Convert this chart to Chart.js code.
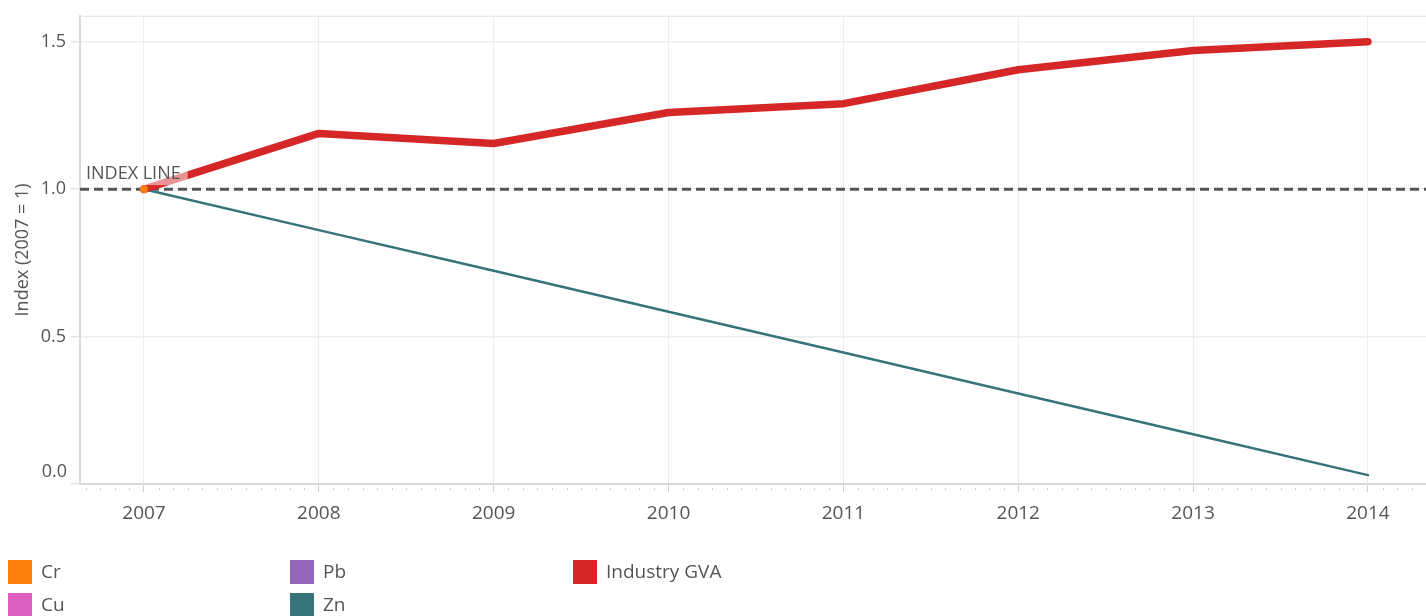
<!DOCTYPE html>
<html><head><meta charset="utf-8">
<script src="https://cdn.jsdelivr.net/npm/chart.js@4.4.1/dist/chart.umd.min.js"></script>
<style>html,body{margin:0;padding:0;background:#fff;overflow:hidden}#wrap{position:relative;width:1426px;height:616px}</style>
</head><body><div id="wrap"><canvas id="c" width="1426" height="616"></canvas></div>
<script>
// ---- data ----
const years = [2007, 2008, 2009, 2010, 2011, 2012, 2013, 2014];
const industryGVA = [1.0, 1.189, 1.155, 1.26, 1.29, 1.405, 1.47, 1.5];
const zn = [1.0, 0.861, 0.723, 0.584, 0.446, 0.307, 0.169, 0.03];
const cr = [1.0];
const cu = [1.0];
const pb = [1.0];
const yTicks = [0, 0.5, 1.0, 1.5];
const indexValue = 1;
const indexLabel = 'INDEX LINE';
const yTitle = 'Index (2007 = 1)';
const legendOrder = ['Cr', 'Cu', 'Pb', 'Zn', 'Industry GVA'];

const FONT = "'Open Sans', 'Noto Sans', sans-serif";
const TXT = '#555';

function pts(vals) { return vals.map((v, i) => ({ x: years[i], y: v })); }

const datasets = [
  { label: 'Cr', data: pts(cr), borderColor: '#ff7f0e', backgroundColor: '#ff7f0e', pointRadius: 4, borderWidth: 0, pointBorderWidth: 0, order: 0 },
  { label: 'Cu', data: pts(cu), borderColor: '#dd5fbf', backgroundColor: '#dd5fbf', pointRadius: 4, borderWidth: 0, pointBorderWidth: 0, order: 3 },
  { label: 'Pb', data: pts(pb), borderColor: '#9467bd', backgroundColor: '#9467bd', pointRadius: 4, borderWidth: 0, pointBorderWidth: 0, order: 3 },
  { label: 'Zn', data: pts(zn), borderColor: '#36747a', backgroundColor: '#36747a', pointRadius: 0, borderWidth: 2.5, borderCapStyle: 'round', order: 2 },
  { label: 'Industry GVA', data: pts(industryGVA), borderColor: '#d62728', backgroundColor: '#d62728', pointRadius: 0, borderWidth: 7.5, borderCapStyle: 'round', borderJoinStyle: 'round', order: 1 }
];

const custom = {
  id: 'custom',
  beforeDatasetsDraw(chart) {
    const { ctx, chartArea: a, scales: { x, y } } = chart;
    ctx.save();
    // top border
    ctx.strokeStyle = '#e2e2e2'; ctx.lineWidth = 1;
    ctx.beginPath(); ctx.moveTo(a.left, a.top + 0.5); ctx.lineTo(a.right, a.top + 0.5); ctx.stroke();
    // minor monthly ticks
    ctx.fillStyle = '#cfcfcf';
    for (let m = Math.ceil(x.min * 12); m <= Math.floor(x.max * 12); m++) {
      if (m % 12 === 0) continue;
      const px = Math.round(x.getPixelForValue(m / 12));
      ctx.fillRect(px, a.bottom + 4, 1, 2);
    }
    // 0.0 label (sits slightly above the axis)
    ctx.fillStyle = TXT; ctx.font = '18px ' + FONT; ctx.textAlign = 'right'; ctx.textBaseline = 'middle';
    ctx.fillText((0).toFixed(1), a.left - 13, y.getPixelForValue(0) - 12);
    // index line
    const yy = y.getPixelForValue(indexValue);
    ctx.strokeStyle = '#555'; ctx.lineWidth = 3; ctx.setLineDash([9, 5]);
    ctx.beginPath(); ctx.moveTo(a.left, yy); ctx.lineTo(a.right, yy); ctx.stroke();
    ctx.restore();
  },
  afterDatasetsDraw(chart) {
    const { ctx, chartArea: a, scales: { y } } = chart;
    const yy = y.getPixelForValue(indexValue);
    ctx.save();
    ctx.font = '18px ' + FONT;
    const w = ctx.measureText(indexLabel).width;
    ctx.fillStyle = 'rgba(255,255,255,0.5)';
    ctx.fillRect(a.left + 3, yy - 27, w + 10, 23);
    ctx.fillStyle = TXT; ctx.textAlign = 'left'; ctx.textBaseline = 'alphabetic';
    ctx.fillText(indexLabel, a.left + 6, yy - 10);
    ctx.restore();
  },
  afterDraw(chart) {
    const { ctx } = chart;
    ctx.save();
    ctx.font = '19px ' + FONT; ctx.textBaseline = 'middle'; ctx.textAlign = 'left';
    const colX = [8, 290, 573], rowY = [572, 605];
    legendOrder.forEach((name, i) => {
      const ds = chart.data.datasets.find(d => d.label === name);
      const cx = colX[Math.floor(i / 2)], cy = rowY[i % 2];
      ctx.fillStyle = ds.borderColor;
      ctx.fillRect(cx, cy - 12, 24, 24);
      ctx.fillStyle = TXT;
      ctx.fillText(name, cx + 33, cy + 1);
    });
    ctx.restore();
  }
};

new Chart(document.getElementById('c'), {
  type: 'line',
  data: { datasets },
  options: {
    responsive: false, animation: false, devicePixelRatio: 1,
    layout: { autoPadding: false, padding: { top: 14, right: 0, left: 0, bottom: 0 } },
    plugins: { legend: { display: false }, tooltip: { enabled: false } },
    elements: { line: { tension: 0 } },
    scales: {
      x: {
        type: 'linear', min: 2006.634, max: 2014.332,
        afterBuildTicks: s => { s.ticks = years.map(v => ({ value: v })); },
        afterFit: s => { s.height = 132; },
        ticks: { callback: v => String(v), color: TXT, font: { size: 19, family: FONT }, padding: 10, maxRotation: 0, autoSkip: false },
        grid: { color: '#ececec', tickColor: '#d0d0d0', tickLength: 8, lineWidth: 1 },
        border: { color: '#d9d9d9', width: 2 }
      },
      y: {
        min: 0, max: 1.588,
        afterBuildTicks: s => { s.ticks = yTicks.map(v => ({ value: v })); },
        afterFit: s => { s.width = 80; },
        ticks: { callback: v => v === 0 ? '' : v.toFixed(1), color: TXT, font: { size: 18, family: FONT }, padding: 5 },
        grid: { color: '#ececec', tickColor: '#e2e2e2', tickLength: 9, lineWidth: 1.5 },
        border: { color: '#d9d9d9', width: 2 },
        title: { display: true, text: yTitle, color: TXT, font: { size: 18, family: FONT }, padding: { top: 12, bottom: 0 } }
      }
    }
  },
  plugins: [custom]
});
</script>
</body></html>
